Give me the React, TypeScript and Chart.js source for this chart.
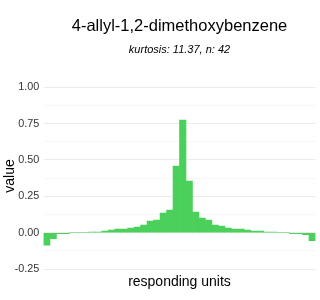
import React, { useEffect, useRef } from "react";
import { Chart, registerables } from "chart.js";

Chart.register(...registerables);

const titleText = "4-allyl-1,2-dimethoxybenzene";
const subtitleText = "kurtosis: 11.37, n: 42";
const xTitle = "responding units";
const yTitle = "value";

const units = [
  "1", "2", "3", "4", "5", "6", "7", "8", "9", "10",
  "11", "12", "13", "14", "15", "16", "17", "18", "19", "20",
  "21", "22", "23", "24", "25", "26", "27", "28", "29", "30",
  "31", "32", "33", "34", "35", "36", "37", "38", "39", "40",
  "41", "42",
];

const values = [
  -0.085, -0.041, -0.007, -0.007, 0, 0, 0, 0.005, 0.005, 0.011,
  0.018, 0.025, 0.025, 0.032, 0.039, 0.053, 0.08, 0.087, 0.135, 0.156,
  0.458, 0.774, 0.355, 0.142, 0.101, 0.087, 0.053, 0.046, 0.032, 0.025,
  0.025, 0.018, 0.011, 0.011, 0.005, 0.005, 0, 0, -0.007, -0.007,
  -0.014, -0.055,
];

const majorTicks = [-0.25, 0, 0.25, 0.5, 0.75, 1.0];
const minorTicks = [-0.125, 0.125, 0.375, 0.625, 0.875];

const FONT = "'Liberation Sans', Arial, Helvetica, sans-serif";

export default function App() {
  const ref = useRef<HTMLCanvasElement | null>(null);

  useEffect(() => {
    document.body.style.margin = "0";
    const canvas = ref.current;
    if (!canvas) return;
    const chart = new Chart(canvas, {
      type: "bar",
      data: {
        labels: units,
        datasets: [
          {
            data: values,
            backgroundColor: "#4bd05b",
            borderWidth: 0,
            barPercentage: 1,
            categoryPercentage: 1,
          },
        ],
      },
      options: {
        responsive: false,
        animation: false,
        devicePixelRatio: 1,
        layout: { padding: { left: 0, right: 4.5, top: 0, bottom: 0 } },
        plugins: {
          legend: { display: false },
          tooltip: { enabled: false },
          title: {
            display: true,
            text: titleText,
            fullSize: false,
            color: "#000",
            font: { family: FONT, size: 16.5, weight: "normal" },
            padding: { top: 16.7, bottom: 0 },
          },
          subtitle: {
            display: true,
            text: subtitleText,
            fullSize: false,
            color: "#000",
            font: { family: FONT, size: 11, style: "italic", weight: "normal" },
            padding: { top: 7.1, bottom: 21.6 },
          },
        },
        scales: {
          x: {
            type: "category",
            offset: true,
            grid: { display: false },
            border: { display: false },
            ticks: { display: false },
            title: {
              display: true,
              text: xTitle,
              color: "#000",
              font: { family: FONT, size: 14 },
              padding: { top: 0, bottom: 9.6 },
            },
            afterFit: (scale: any) => {
              scale.height = 26.5;
            },
          },
          y: {
            type: "linear",
            min: -0.28,
            max: 1.06,
            border: { display: false },
            afterBuildTicks: (scale: any) => {
              const all = [...majorTicks, ...minorTicks].sort((a, b) => a - b);
              scale.ticks = all.map((v) => ({ value: v }));
            },
            grid: {
              drawTicks: false,
              color: (ctx: any) =>
                majorTicks.includes(ctx.tick?.value) ? "#ebebeb" : "#f5f5f5",
              lineWidth: (ctx: any) =>
                majorTicks.includes(ctx.tick?.value) ? 1.1 : 0.8,
            },
            ticks: {
              autoSkip: false,
              padding: 4.2,
              color: "#333",
              font: { family: FONT, size: 10.8 },
              callback: (v: any) =>
                majorTicks.includes(Number(v)) ? Number(v).toFixed(2) : "",
            },
            title: {
              display: true,
              text: yTitle,
              color: "#000",
              font: { family: FONT, size: 14 },
              padding: { top: 2, bottom: 0 },
            },
            afterFit: (scale: any) => {
              scale.width = 43.5;
            },
          },
        },
      },
    });
    return () => chart.destroy();
  }, []);

  return (
    <div style={{ width: 320, height: 300 }}>
      <canvas ref={ref} width={320} height={300} style={{ display: "block" }} />
    </div>
  );
}
